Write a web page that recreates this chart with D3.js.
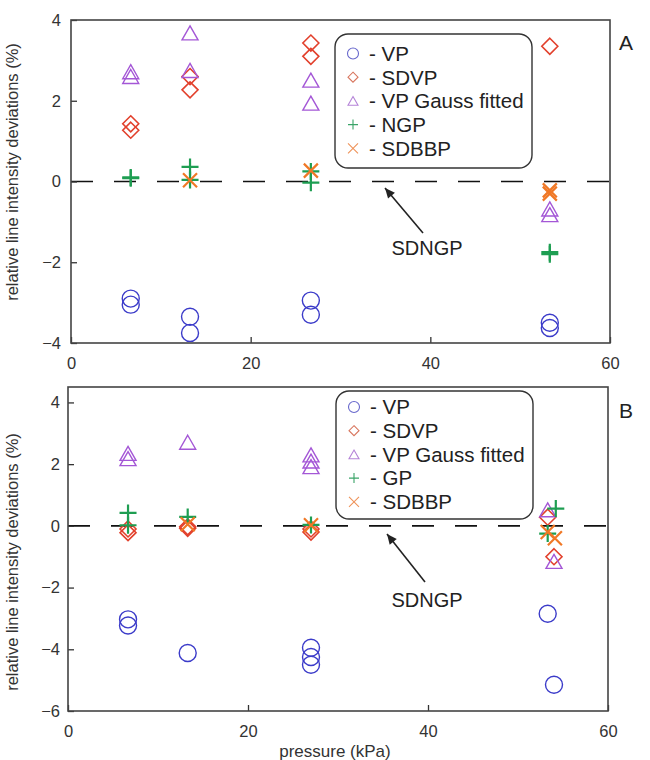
<!DOCTYPE html>
<html>
<head>
<meta charset="utf-8">
<script src="https://cdn.jsdelivr.net/npm/d3@7/dist/d3.min.js"></script>
<style>
  html, body { margin: 0; padding: 0; background: #fff; }
  svg { display: block; font-family: "Liberation Sans", Arial, Helvetica, sans-serif; }
</style>
</head>
<body>
<svg id="chart" width="650" height="760"></svg>
<script>
// ---- data: [pressure (kPa), relative deviation (%)] ----
const xTicks = [0, 20, 40, 60];
const yTicksA = [-4, -2, 0, 2, 4];
const yTicksB = [-6, -4, -2, 0, 2, 4];

// panel A
const vpA     = [[6.65,-2.9],[6.65,-3.05],[13.25,-3.35],[13.25,-3.75],[26.7,-2.95],[26.7,-3.3],[53.3,-3.5],[53.3,-3.63]];
const sdvpA   = [[6.65,1.43],[6.65,1.27],[13.25,2.6],[13.25,2.27],[26.7,3.43],[26.7,3.1],[53.3,3.35]];
const gaussA  = [[6.65,2.72],[6.65,2.6],[13.25,3.68],[13.25,2.75],[26.7,2.51],[26.7,1.94],[53.3,-0.68],[53.3,-0.82]];
const ngpA    = [[6.65,0.1],[6.65,0.08],[13.25,0.36],[13.25,0.04],[26.7,0.25],[26.7,-0.03],[53.3,-1.75],[53.3,-1.8]];
const sdbbpA  = [[13.25,0.03],[26.7,0.27],[53.3,-0.22],[53.3,-0.3]];

// panel B
const vpB     = [[6.67,-3.03],[6.67,-3.23],[13.3,-4.12],[27.0,-3.95],[27.0,-4.25],[27.0,-4.5],[53.3,-2.85],[54.0,-5.15]];
const sdvpB   = [[6.67,-0.1],[6.67,-0.22],[13.3,-0.03],[13.3,-0.08],[27.0,-0.1],[27.0,-0.2],[53.3,0.28],[54.0,-1.0]];
const gaussB  = [[6.67,2.35],[6.67,2.18],[13.3,2.71],[27.0,2.3],[27.0,2.1],[27.0,1.92],[53.3,0.52],[54.0,-1.15]];
const gpB     = [[6.67,0.42],[6.67,0.02],[13.3,0.29],[27.0,0.03],[54.2,0.56],[53.3,-0.25]];
const sdbbpB  = [[13.3,0.05],[27.0,0.02],[53.3,-0.2],[54.1,-0.4]];

const legendA = ["- VP", "- SDVP", "- VP Gauss fitted", "- NGP", "- SDBBP"];
const legendB = ["- VP", "- SDVP", "- VP Gauss fitted", "- GP", "- SDBBP"];

// ---- styles ----
const colors = { vp: "#3b3bc9", sdvp: "#e2402c", gauss: "#a457d6", gp: "#1e9e52", sdbbp: "#f07826" };
const legendColors = { vp: "#6868cc", sdvp: "#d8765e", gauss: "#b584d8", gp: "#3aa468", sdbbp: "#ef935a" };
const kinds = ["vp", "sdvp", "gauss", "gp", "sdbbp"];

function markerPath(kind, s) {
  const p = d3.path();
  if (kind === "vp") { p.moveTo(s, 0); p.arc(0, 0, s, 0, 2 * Math.PI); }
  else if (kind === "sdvp") { p.moveTo(0, -s); p.lineTo(s, 0); p.lineTo(0, s); p.lineTo(-s, 0); p.closePath(); }
  else if (kind === "gauss") { const h = s * 1.75; p.moveTo(0, -h / 2); p.lineTo(s, h / 2); p.lineTo(-s, h / 2); p.closePath(); }
  else if (kind === "gp") { p.moveTo(-s, 0); p.lineTo(s, 0); p.moveTo(0, -s); p.lineTo(0, s); }
  else if (kind === "sdbbp") { p.moveTo(-s, -s); p.lineTo(s, s); p.moveTo(-s, s); p.lineTo(s, -s); }
  return p.toString();
}
const markerSize = { vp: 8.5, sdvp: 8, gauss: 8, gp: 8.5, sdbbp: 7 };
const markerWidth = { vp: 1.4, sdvp: 1.6, gauss: 1.4, gp: 2.2, sdbbp: 2.2 };

const svg = d3.select("#chart");

function drawPanel(cfg) {
  const x = d3.scaleLinear().domain([0, 60]).range([cfg.left, cfg.right]);
  const y = d3.scaleLinear().domain(cfg.yDomain).range([cfg.bottom, cfg.top]);
  const g = svg.append("g");

  // zero reference line
  g.append("line")
    .attr("x1", x(0)).attr("x2", x(60)).attr("y1", y(0)).attr("y2", y(0))
    .attr("stroke", "#111").attr("stroke-width", 1.6).attr("stroke-dasharray", "22,21");

  // axes with inward ticks
  const xAxis = d3.axisBottom(x).tickValues(xTicks).tickSize(-6).tickPadding(14).tickFormat(d3.format("d"));
  const yAxis = d3.axisLeft(y).tickValues(cfg.yTicks).tickSize(-6).tickPadding(cfg.yPad).tickFormat(d3.format("d"));
  const gx = g.append("g").attr("transform", `translate(0,${cfg.bottom})`).call(xAxis);
  const gy = g.append("g").attr("transform", `translate(${cfg.left},0)`).call(yAxis);
  [gx, gy].forEach(a => {
    a.select(".domain").remove();
    a.selectAll(".tick line").attr("stroke", "#333").attr("stroke-width", 1.3);
    a.selectAll(".tick text").attr("fill", "#333").attr("font-size", 16.5).attr("font-family", "Liberation Sans, Arial, sans-serif");
  });

  // frame
  g.append("rect")
    .attr("x", cfg.left).attr("y", cfg.top)
    .attr("width", cfg.right - cfg.left).attr("height", cfg.bottom - cfg.top)
    .attr("fill", "none").attr("stroke", "#444").attr("stroke-width", 1.6);

  // data markers
  cfg.series.forEach((data, i) => {
    const k = kinds[i];
    g.append("g").selectAll("path").data(data).join("path")
      .attr("transform", d => `translate(${x(d[0])},${y(d[1])})`)
      .attr("d", markerPath(k, markerSize[k]))
      .attr("fill", "none").attr("stroke", colors[k]).attr("stroke-width", markerWidth[k]);
  });

  // legend
  const lg = g.append("g").attr("transform", `translate(${cfg.legend.x},${cfg.legend.y})`);
  lg.append("rect").attr("width", 197).attr("height", cfg.legend.h).attr("rx", 13)
    .attr("fill", "#fff").attr("stroke", "#333").attr("stroke-width", 1.4);
  cfg.legendLabels.forEach((t, i) => {
    const k = kinds[i];
    const cy = cfg.legend.first + i * 23.7;
    lg.append("path").attr("transform", `translate(18,${cy})`)
      .attr("d", markerPath(k, k === "vp" ? 5.5 : 5))
      .attr("fill", "none").attr("stroke", legendColors[k]).attr("stroke-width", 1.1);
    lg.append("text").attr("x", 34).attr("y", cy).attr("dy", "0.36em")
      .attr("font-size", 20.5).attr("fill", "#222").text(t);
  });

  // annotation for the SDNGP reference line
  const ax = cfg.arrow;
  g.append("line").attr("x1", ax.x1).attr("y1", ax.y1).attr("x2", ax.x2).attr("y2", ax.y2)
    .attr("stroke", "#222").attr("stroke-width", 1.6);
  const ang = Math.atan2(ax.y2 - ax.y1, ax.x2 - ax.x1);
  const hl = 11, hw = 0.42;
  g.append("path")
    .attr("d", `M${ax.x2},${ax.y2} L${ax.x2 - hl * Math.cos(ang - hw)},${ax.y2 - hl * Math.sin(ang - hw)} L${ax.x2 - hl * Math.cos(ang + hw)},${ax.y2 - hl * Math.sin(ang + hw)} Z`)
    .attr("fill", "#222");
  g.append("text").attr("x", ax.tx).attr("y", ax.ty).attr("font-size", 20).attr("fill", "#222")
    .attr("text-anchor", "middle").text("SDNGP");

  // y-axis title
  g.append("text").attr("transform", `translate(18,${cfg.labelY}) rotate(-90)`)
    .attr("text-anchor", "middle").attr("font-size", 16.5).attr("fill", "#333")
    .text("relative line intensity deviations (%)");

  // panel letter
  g.append("text").attr("x", 619).attr("y", cfg.letterY).attr("font-size", 21).attr("fill", "#222")
    .text(cfg.letter);
}

drawPanel({
  left: 71, right: 610, top: 20, bottom: 343, yDomain: [-4, 4], yTicks: yTicksA, yPad: 10,
  series: [vpA, sdvpA, gaussA, ngpA, sdbbpA], legendLabels: legendA,
  legend: { x: 335, y: 34, h: 134, first: 19.5 },
  arrow: { x1: 423, y1: 233, x2: 385, y2: 188, tx: 427, ty: 255 },
  labelY: 172, letter: "A", letterY: 50
});

drawPanel({
  left: 68, right: 608, top: 387, bottom: 711, yDomain: [-6, 4.5], yTicks: yTicksB, yPad: 8,
  series: [vpB, sdvpB, gaussB, gpB, sdbbpB], legendLabels: legendB,
  legend: { x: 336, y: 391, h: 128, first: 16 },
  arrow: { x1: 425, y1: 582, x2: 387, y2: 534, tx: 427, ty: 607 },
  labelY: 562, letter: "B", letterY: 418
});

// shared x-axis title
svg.append("text").attr("x", 335).attr("y", 757).attr("text-anchor", "middle")
  .attr("font-size", 17).attr("fill", "#333").text("pressure (kPa)");
</script>
</body>
</html>
